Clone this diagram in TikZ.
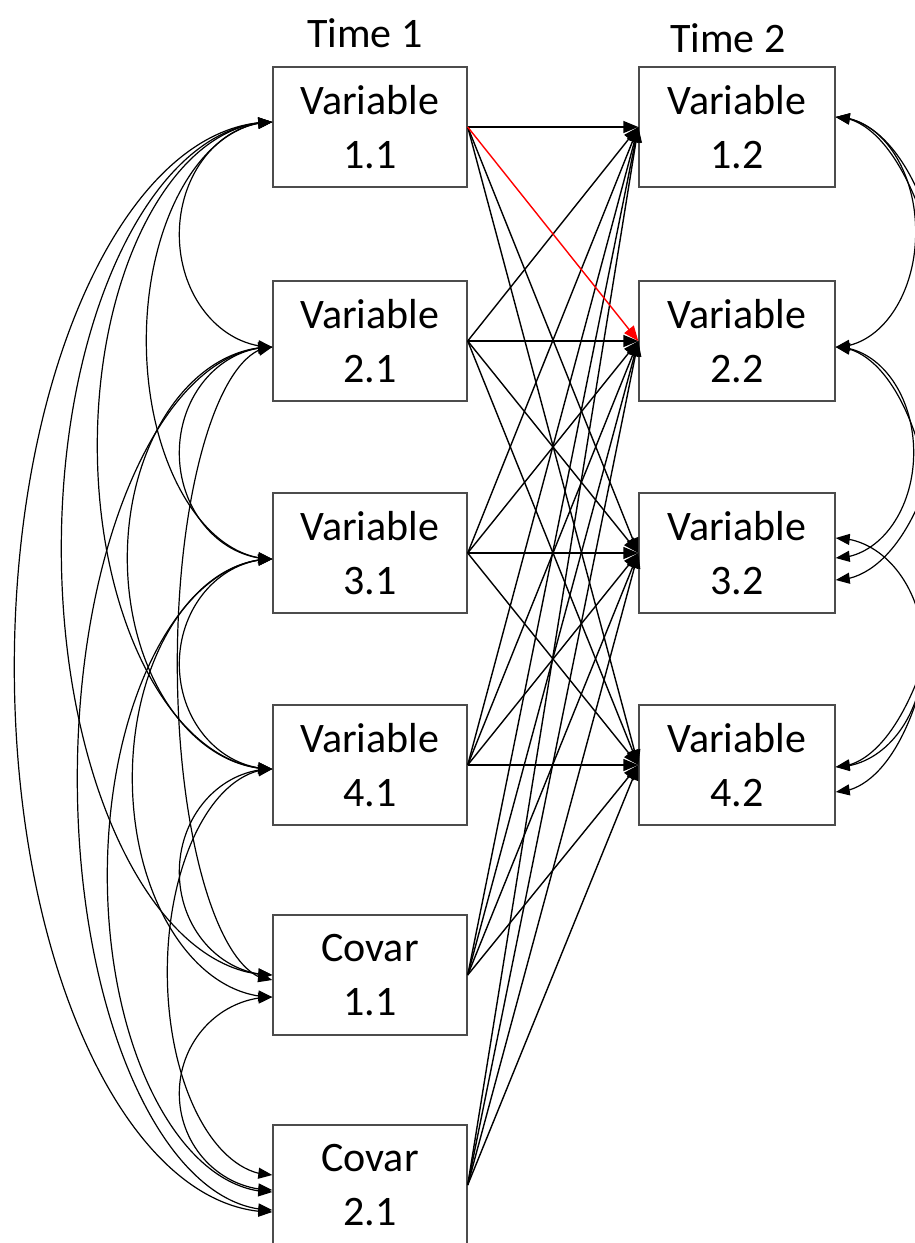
\documentclass[tikz,border=0pt]{standalone}
\usepackage{fontspec}
\setmainfont{Carlito}
\usetikzlibrary{arrows.meta,bending,calc}
\newcommand\covL[5]{\draw[cov] let \p1=($(#1.west)+(0,#2)$), \p2=($(#3.west)+(0,#4)$) in (\p1) arc[start angle=90,end angle=270,x radius=#5pt,y radius={(\y1-\y2)/2}];}
\newcommand\covR[5]{\draw[cov] let \p1=($(#1.east)+(0,#2)$), \p2=($(#3.east)+(0,#4)$) in (\p1) arc[start angle=90,end angle=-90,x radius=#5pt,y radius={(\y1-\y2)/2}];}
\begin{document}
\begin{tikzpicture}[x=1pt,y=-1pt,
  box/.style={draw=black!70, line width=1.4pt, fill=white, minimum width=194pt, minimum height=120pt, align=center, font=\fontsize{42}{54}\selectfont, inner sep=0pt},
  lbl/.style={font=\fontsize{42}{50}\selectfont, inner sep=0pt},
  path/.style={draw=black, line width=1.4pt, -{Triangle[length=15pt,width=12pt]}},
  cov/.style={draw=black, line width=1.2pt, {Triangle[length=14pt,width=11pt]}-{Triangle[length=14pt,width=11pt]}},
]
\useasboundingbox (0,0) rectangle (915,1243);
\clip (0,0) rectangle (915,1243);
\fill[white] (0,0) rectangle (915,1243);

\node[lbl] (t1) at (365,33) {Time 1};
\node[lbl] (t2) at (728,38) {Time 2};

\node[box] (L1) at (370,127) {Variable\\1.1};
\node[box] (L2) at (370,341) {Variable\\2.1};
\node[box] (L3) at (370,553) {Variable\\3.1};
\node[box] (L4) at (370,765) {Variable\\4.1};
\node[box] (L5) at (370,975) {Covar\\1.1};
\node[box] (L6) at (370,1185) {Covar\\2.1};

\node[box, minimum width=196pt] (R1) at (737,127) {Variable\\1.2};
\node[box, minimum width=196pt] (R2) at (737,341) {Variable\\2.2};
\node[box, minimum width=196pt] (R3) at (737,553) {Variable\\3.2};
\node[box, minimum width=196pt] (R4) at (737,765) {Variable\\4.2};

% regression paths
\foreach \i in {1,...,6}{\foreach \j in {1,...,4}{%
  \ifnum\i\j=12\relax\else\draw[path] (L\i.east) -- (R\j.west);\fi}}
\draw[path, red] (L1.east) -- (R2.west);

% covariances, time 1
\covL{L1}{-5}{L2}{6}{93}
\covL{L1}{-5}{L3}{6}{126}
\covL{L1}{-5}{L4}{4}{175}
\covL{L1}{-5}{L5}{0}{211}
\covL{L1}{-5}{L6}{27}{258}
\covL{L2}{6}{L3}{6}{93}
\covL{L2}{6}{L4}{4}{145}
\covL{L2}{6}{L5}{5}{95}
\covL{L2}{6}{L6}{25}{195}
\covL{L3}{6}{L4}{4}{93}
\covL{L3}{6}{L5}{22}{140}
\covL{L3}{6}{L6}{7}{165}
\covL{L4}{4}{L5}{0}{93}
\covL{L4}{4}{L6}{-10}{105}
\covL{L5}{22}{L6}{5}{93}

% covariances, time 2
\covR{R1}{-10}{R2}{6}{80}
\covR{R1}{-10}{R3}{27}{112}
\covR{R1}{-10}{R4}{2}{120}
\covR{R2}{6}{R3}{5}{78}
\covR{R2}{6}{R4}{27}{100}
\covR{R3}{-15}{R4}{2}{88}
\end{tikzpicture}
\end{document}
